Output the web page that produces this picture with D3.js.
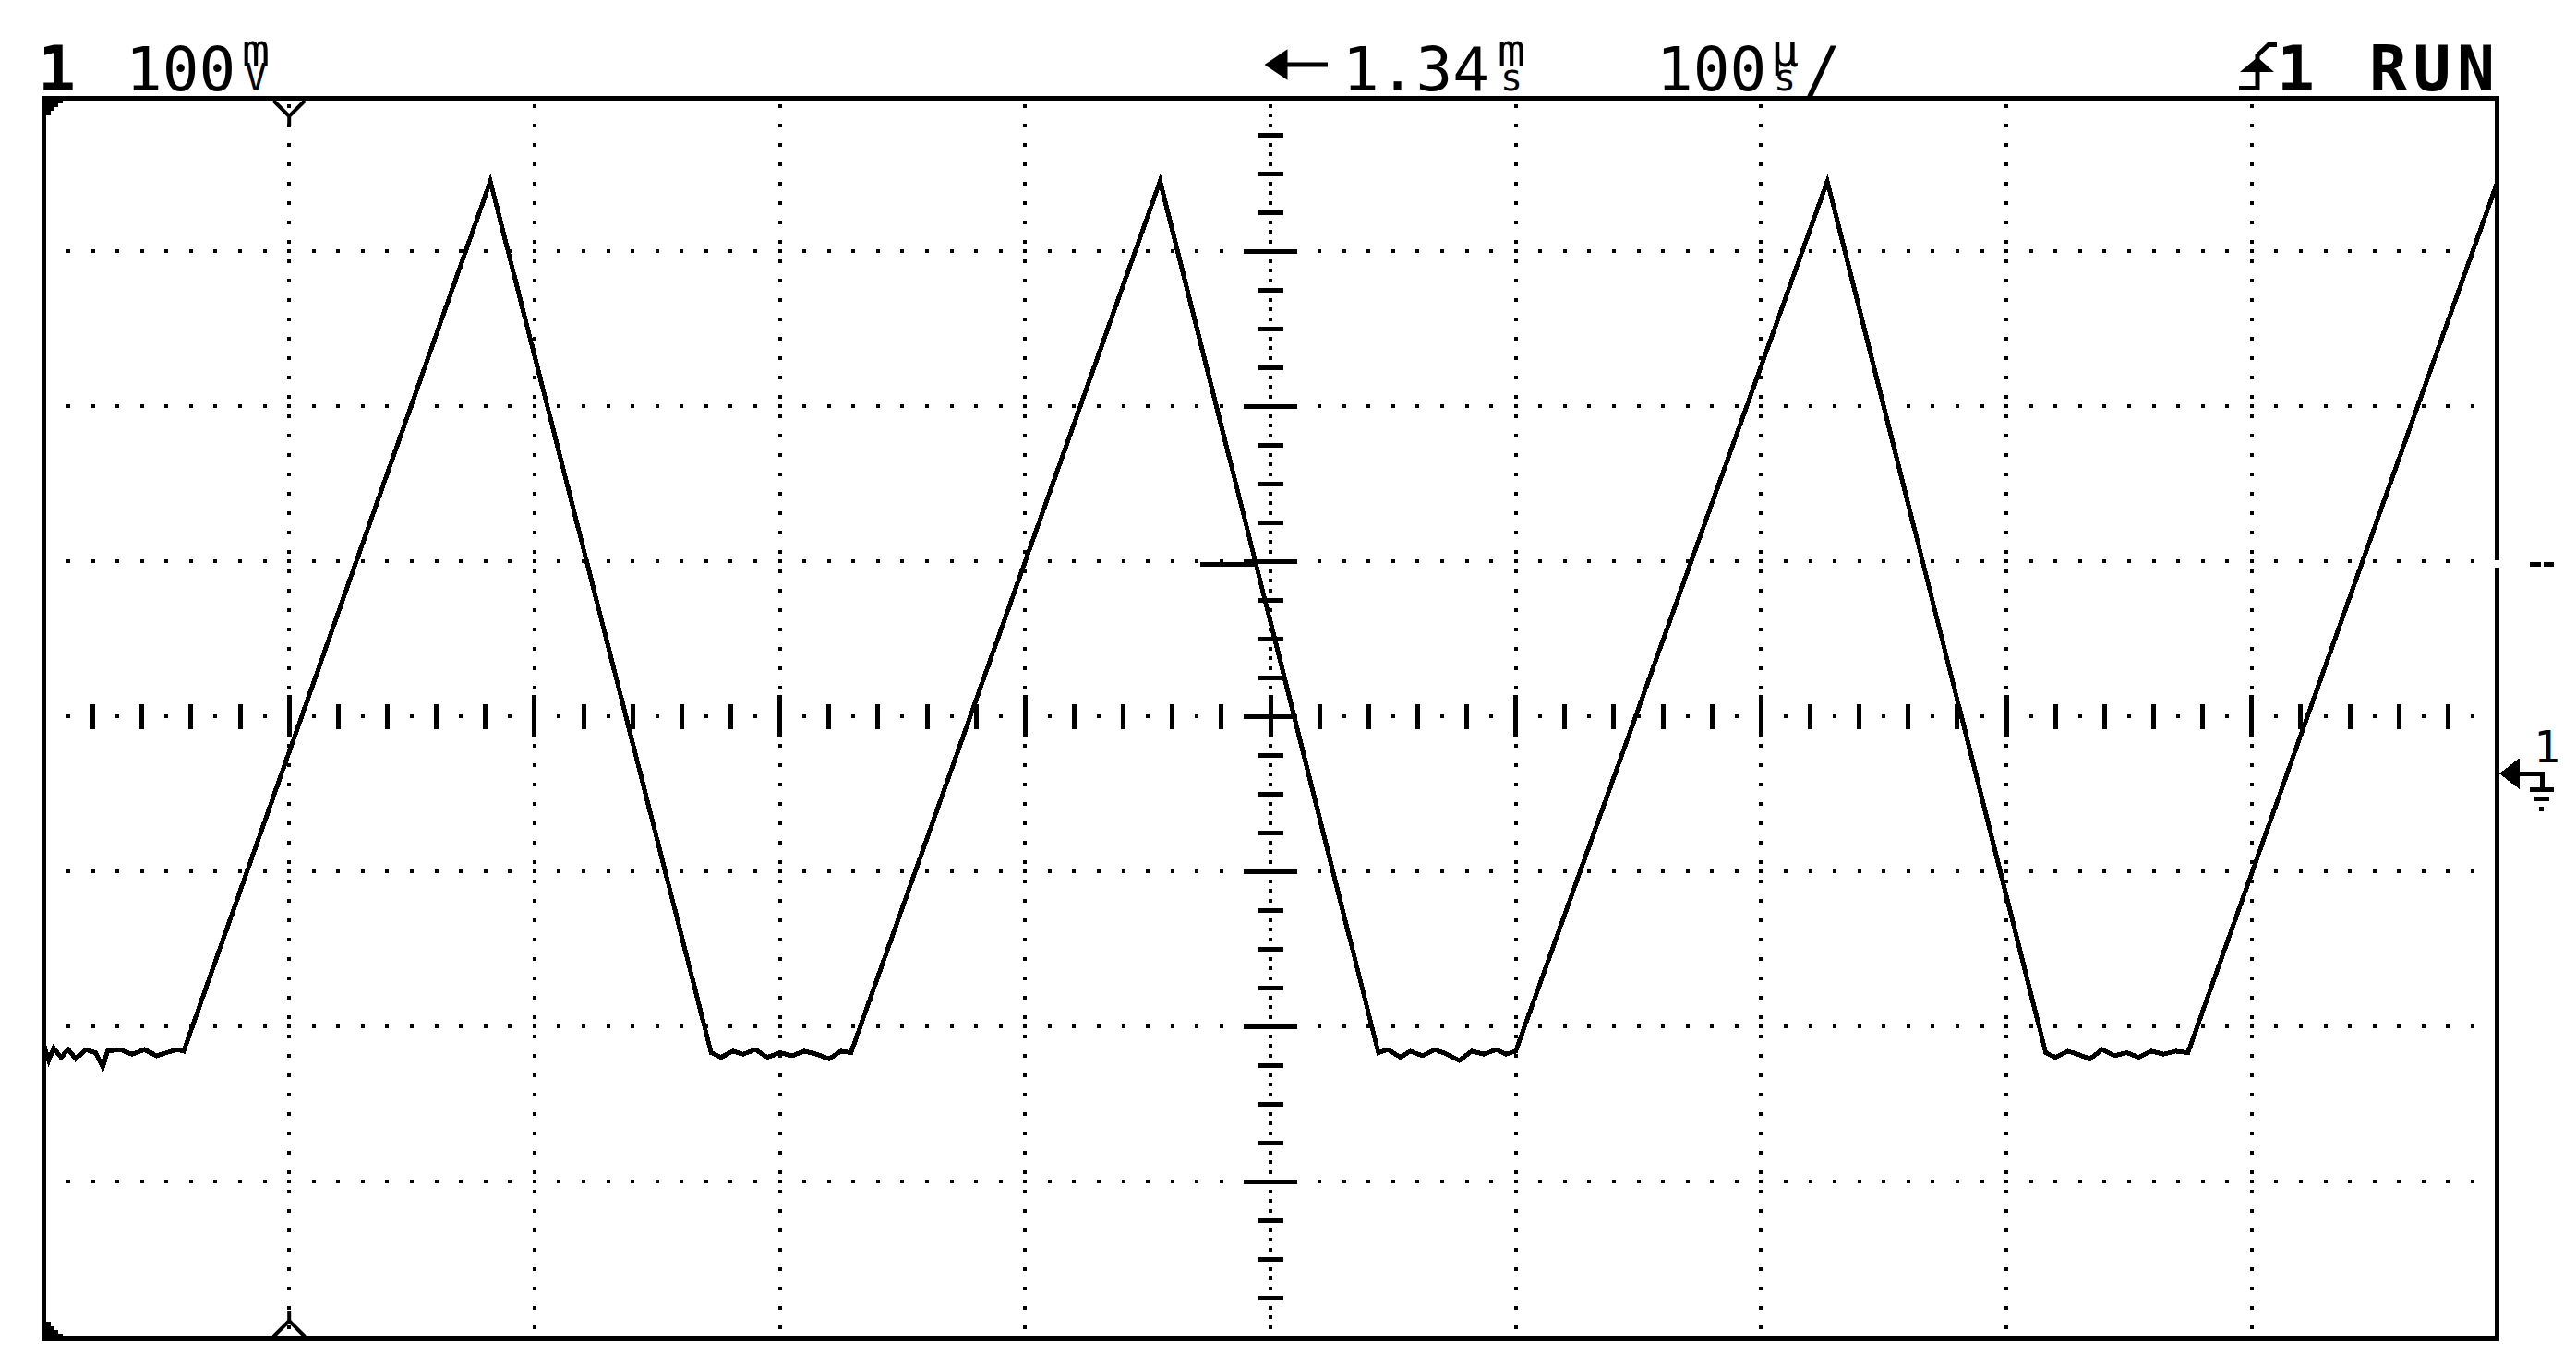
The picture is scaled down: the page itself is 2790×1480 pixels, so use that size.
<!DOCTYPE html>
<html>
<head>
<meta charset="utf-8">
<script src="https://cdn.jsdelivr.net/npm/d3@7"></script>
<style>
    body { margin: 0; background: #fff; }
    text { font-family: "DejaVu Sans Mono", monospace; fill: #000; }
</style>
</head>
<body>
<div id="scope"></div>
<script>
// trace vertices: time in µs from the left edge, volts in mV above ground
let traceTime = [
    0, 2, 4, 7, 10, 13, 17, 21, 24, 26, 31, 36, 41, 46, 50, 54, 57,
    182,
    272, 276, 281, 285, 290, 295, 300, 305, 310, 315, 320, 325, 329,
    455,
    544, 548, 553, 557, 562, 567, 572, 577, 582, 587, 592, 596, 600,
    727,
    816, 820, 825, 829, 834, 839, 844, 849, 854, 859, 864, 869, 874,
    1000
];
let traceMv = [
    -175, -185, -177, -183, -178, -184, -178, -180, -189, -179, -178, -181, -178, -182, -180, -178, -179,
    382,
    -180, -183, -179, -181, -178, -183, -180, -182, -179, -181, -184, -179, -180,
    382,
    -180, -178, -183, -179, -182, -178, -181, -185, -179, -181, -178, -181, -179,
    382,
    -180, -183, -179, -181, -184, -178, -182, -180, -183, -179, -181, -179, -180,
    381
];

let timeDomain = [0, 1000];   // 100 µs/div, 10 div
let voltDomain = [-363, 437]; // 100 mV/div, 8 div, ground sits 0.37 div under centre

let triggerTime = 100;
let triggerMv = 135;

// header readout
let chanLabel = "1", voltsDiv = "100", voltsUnit = ["m", "V"];
let delayText = "1.34", delayUnit = ["m", "s"];
let timeDiv = "100", timeUnit = ["µ", "s"];
let trigSource = "1", runState = "RUN";

let svg = d3.select("#scope")
    .append("svg")
    .attr("width", 2790)
    .attr("height", 1480);

svg.append("rect")
    .attr("width", 2790)
    .attr("height", 1480)
    .attr("fill", "#fff");

let xDiv = d3.scaleLinear().domain([0, 10]).range([47.5, 2704.5]);
let yDiv = d3.scaleLinear().domain([-4, 4]).range([1448, 104]);
let x = d3.scaleLinear().domain(timeDomain).range(xDiv.range());
let y = d3.scaleLinear().domain(voltDomain).range(yDiv.range());

let grid = svg.append("g").attr("shape-rendering", "crispEdges");

function dot(cx, cy) {
    grid.append("rect").attr("x", cx - 2).attr("y", cy - 2).attr("width", 4).attr("height", 4);
}
function hbar(cx, cy, w) {
    grid.append("rect").attr("x", cx - w / 2).attr("y", cy - 2.5).attr("width", w).attr("height", 5);
}
function vbar(cx, cy, h) {
    grid.append("rect").attr("x", cx - 2.5).attr("y", cy - h / 2).attr("width", 5).attr("height", h);
}

// dotted graticule
d3.range(-3, 4).filter(k => k !== 0).forEach(k =>
    d3.range(1, 100).forEach(j => dot(xDiv(j / 10), yDiv(k))));

d3.range(1, 10).filter(k => k !== 5).forEach(k =>
    d3.range(64).forEach(m => dot(xDiv(k), yDiv(-4 + (m + 0.5) / 8))));

// centre axes with tick marks
d3.range(1, 128).forEach(m => {
    let cy = yDiv(-4 + m / 16);
    if (m % 16 === 0) hbar(xDiv(5), cy, 58);
    else if (m % 4 === 0) hbar(xDiv(5), cy, 27);
    else dot(xDiv(5), cy);
});

d3.range(1, 100).forEach(m => {
    let cx = xDiv(m / 10);
    if (m % 10 === 0) vbar(cx, yDiv(0), 46);
    else if (m % 2 === 0) vbar(cx, yDiv(0), 27);
    else dot(cx, yDiv(0));
});

// trigger level marks
grid.append("rect")
    .attr("x", 1300).attr("y", y(triggerMv) - 2.5)
    .attr("width", 62).attr("height", 5);

// the trace
let line = d3.line()
    .x(i => x(traceTime[i]))
    .y(i => y(traceMv[i]));

svg.append("path")
    .attr("d", line(d3.range(traceTime.length)))
    .attr("fill", "none")
    .attr("stroke", "#000")
    .attr("stroke-width", 5)
    .attr("stroke-linejoin", "miter")
    .attr("shape-rendering", "crispEdges");

// frame
let frame = svg.append("g").attr("shape-rendering", "crispEdges");

frame.append("rect")
    .attr("x", xDiv(0)).attr("y", yDiv(4) + 2.5)
    .attr("width", xDiv(10) - xDiv(0)).attr("height", yDiv(-4) - yDiv(4))
    .attr("fill", "none")
    .attr("stroke", "#000")
    .attr("stroke-width", 5);

frame.append("rect")
    .attr("x", xDiv(10) - 4).attr("y", y(triggerMv) - 4)
    .attr("width", 8).attr("height", 8)
    .attr("fill", "#fff");

[[2740, 12], [2755, 11]].forEach(d =>
    frame.append("rect")
        .attr("x", d[0]).attr("y", y(triggerMv) - 2.5)
        .attr("width", d[1]).attr("height", 5));

// corner notches
let x0 = xDiv(0) + 2.5, yTop = yDiv(4) + 5, yBot = yDiv(-4);
svg.append("path")
    .attr("d", `M${x0},${yTop} h18 v3 h-5 v4 h-4 v4 h-4 v5 h-5 Z`)
    .attr("fill", "#000").attr("shape-rendering", "crispEdges");
svg.append("path")
    .attr("d", `M${x0},${yBot} h18 v-3 h-5 v-4 h-4 v-4 h-4 v-5 h-5 Z`)
    .attr("fill", "#000").attr("shape-rendering", "crispEdges");

// trigger position markers
let tx = x(triggerTime);
svg.append("path")
    .attr("d", `M${tx - 17},${yTop} L${tx},${yTop + 17} L${tx + 17},${yTop} M${tx},${yTop + 17} V${yTop + 28}`)
    .attr("fill", "none").attr("stroke", "#000").attr("stroke-width", 4);
svg.append("path")
    .attr("d", `M${tx - 17},${yBot} L${tx},${yBot - 17} L${tx + 17},${yBot} M${tx},${yBot - 17} V${yBot - 28}`)
    .attr("fill", "none").attr("stroke", "#000").attr("stroke-width", 4);

// ground marker
let gy = y(0);
let gnd = svg.append("g").attr("shape-rendering", "crispEdges");
gnd.append("path")
    .attr("d", `M2707,${gy} L2729,${gy - 17} L2729,${gy + 17} Z`);
gnd.append("path")
    .attr("d", `M2728,${gy} H2753 V${gy + 17}`)
    .attr("fill", "none").attr("stroke", "#000").attr("stroke-width", 5);
[[2740, 26, 17], [2745, 16, 27], [2750, 5, 38]].forEach(d =>
    gnd.append("rect")
        .attr("x", d[0]).attr("y", gy + d[2] - 2.5)
        .attr("width", d[1]).attr("height", 5));
gnd.append("text")
    .attr("x", 2744).attr("y", gy - 12)
    .attr("font-size", 48)
    .text(chanLabel);

// header readout
let header = svg.append("g");
let base = 98;

// small unit letters stacked one over the other, kept in one text element
function stacked(px, top, bottom) {
    let t = header.append("text")
        .attr("x", px).attr("y", base - 26)
        .attr("font-size", 50);
    t.append("tspan").text(top);
    t.append("tspan")
        .attr("x", px + 3).attr("y", base)
        .attr("font-size", 40)
        .text(bottom);
}

header.append("text")
    .attr("x", 41).attr("y", base)
    .attr("font-size", 68).attr("font-weight", "bold")
    .text(chanLabel);
header.append("text")
    .attr("x", 136).attr("y", base)
    .attr("font-size", 66)
    .text(voltsDiv);
stacked(262, voltsUnit[0], voltsUnit[1]);

header.append("path")
    .attr("d", "M1374,70 L1392,58 L1392,82 Z M1390,70 H1438")
    .attr("stroke", "#000").attr("stroke-width", 5);
header.append("text")
    .attr("x", 1454).attr("y", base)
    .attr("font-size", 66)
    .text(delayText);
stacked(1622, delayUnit[0], delayUnit[1]);

header.append("text")
    .attr("x", 1794).attr("y", base)
    .attr("font-size", 66)
    .text(timeDiv);
stacked(1918, timeUnit[0], timeUnit[1]);
header.append("text")
    .attr("x", 1954).attr("y", base)
    .attr("font-size", 66)
    .text("/");

// trigger slope icon
header.append("path")
    .attr("d", "M2425,95.5 H2445 V60 L2457,48.5 H2466")
    .attr("fill", "none").attr("stroke", "#000").attr("stroke-width", 5);
header.append("path")
    .attr("d", "M2445,62 L2426,78 L2463,78 Z");
header.append("text")
    .attr("x", 2466).attr("y", base)
    .attr("font-size", 68).attr("font-weight", "bold")
    .text(trigSource);
header.append("text")
    .attr("x", 2566).attr("y", base)
    .attr("font-size", 68).attr("font-weight", "bold")
    .attr("letter-spacing", 6.5)
    .text(runState);
</script>
</body>
</html>
